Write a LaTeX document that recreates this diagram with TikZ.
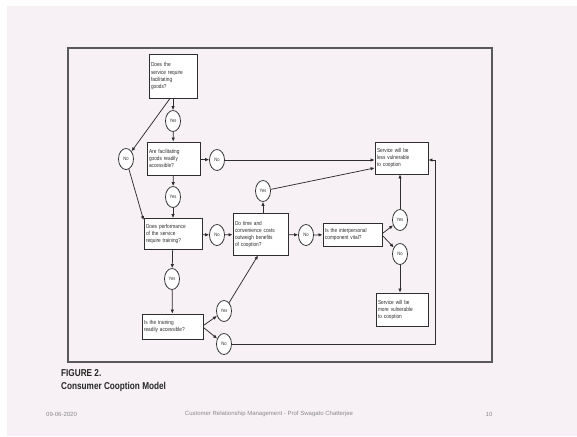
\documentclass[tikz,border=0pt]{standalone}
\usepackage{fontspec}
\setmainfont{Liberation Sans}
\newfontfamily\cond[FakeStretch=0.82]{Liberation Sans}
\usetikzlibrary{shapes.geometric,arrows.meta,calc}
\definecolor{slidebg}{HTML}{F7F0F4}
\definecolor{ink}{HTML}{2E2E2E}
\definecolor{foot}{HTML}{8A8A8A}
\begin{document}
\begin{tikzpicture}[x=1pt,y=-1pt,
  qbox/.style={draw=ink,line width=0.85pt,fill=white,inner sep=2pt,align=left,anchor=center,
     font=\cond\fontsize{5.8}{7}\selectfont,text=ink},
  ans/.style={draw=ink,line width=0.75pt,fill=white,ellipse,inner sep=0pt,minimum width=15pt,minimum height=21pt,
     font=\cond\fontsize{5}{6}\selectfont,text=ink},
  conn/.style={draw=ink,line width=0.75pt,-{Latex[length=4pt,width=3.5pt]}},
  plain/.style={draw=ink,line width=0.75pt}]
\useasboundingbox (0,0) rectangle (577,436);
\fill[white] (0,0) rectangle (577,436);
\fill[slidebg] (7,6) rectangle (577,436);
\draw[gray!70!black,line width=1.1pt] (68,48) rectangle (492,362);

% question boxes
\node[qbox,minimum width=48pt,minimum height=44pt,text width=44pt] (b1) at (173,76) {Does the\\service require\\facilitating\\goods?};
\node[qbox,minimum width=53pt,minimum height=33pt,text width=49pt] (b2) at (173.5,158.5) {Are facilitating\\goods readily\\accessible?};
\node[qbox,minimum width=58pt,minimum height=31pt,text width=54pt] (b3) at (173,234) {Does performance\\of the service\\require training?};
\node[qbox,minimum width=55pt,minimum height=42pt,text width=51pt] (b4) at (260.5,234) {Do time and\\convenience costs\\outweigh benefits\\of cooption?};
\node[qbox,minimum width=59pt,minimum height=23pt,text width=55pt] (b5) at (352.5,234.5) {Is the interpersonal\\component vital?};
\node[qbox,minimum width=61pt,minimum height=25pt,text width=57pt] (b6) at (172.5,326.5) {Is the training\\readily accessible?};
\node[qbox,minimum width=53pt,minimum height=32pt,text width=49pt] (less) at (401.5,158) {Service will be\\less vulnerable\\to cooption};
\node[qbox,minimum width=52pt,minimum height=33pt,text width=48pt] (more) at (402,309.5) {Service will be\\more vulnerable\\to cooption};

% answers
\node[ans] (y1) at (173,121) {Yes};
\node[ans] (nL) at (126,159) {No};
\node[ans] (nR) at (217,160) {No};
\node[ans] (y2) at (173,197) {Yes};
\node[ans] (n3) at (217,235) {No};
\node[ans] (yU) at (263,191) {Yes};
\node[ans] (n4) at (306,235) {No};
\node[ans] (y5) at (400,220) {Yes};
\node[ans] (n5) at (400,254) {No};
\node[ans] (y6) at (172,279) {Yes};
\node[ans] (y7) at (224,311) {Yes};
\node[ans] (n7) at (224,344) {No};

\coordinate (c1) at (435,344);
\coordinate (c2) at (435,160);

% connectors
\draw[conn] (b1) -- (y1);
\draw[conn] (y1) -- (b2);
\draw[conn] ($(b1.south)+(-3,0)$) -- (nL);
\draw[conn] (nL) -- ($(b3.north west)+(0,2)$);
\draw[conn] (b2) -- (nR);
\draw[conn] (nR) -- (nR -| less.west);
\draw[conn] (b2) -- (y2);
\draw[conn] (y2) -- (b3);
\draw[conn] (b3) -- (n3);
\draw[conn] (n3) -- (b4);
\draw[conn] (b4.north -| yU) -- (yU);
\draw[conn] (yU) -- ($(less.west)+(0,10)$);
\draw[conn] (b4) -- (n4);
\draw[conn] (n4) -- (b5);
\draw[conn] ($(b5.east)+(0,-1)$) -- (y5);
\draw[conn] ($(b5.east)+(0,1)$) -- (n5);
\draw[conn] (y5) -- (y5 |- less.south);
\draw[conn] (n5) -- (n5 |- more.north);
\draw[conn] (b3) -- (y6);
\draw[conn] (y6) -- (b6);
\draw[conn] ($(b6.east)+(0,-1)$) -- (y7);
\draw[conn] ($(b6.east)+(0,1)$) -- (n7);
\draw[conn] (y7) -- ($(b4.south)+(-2.5,0)$);
\draw[plain] (n7) -- (c1) -- (c2);
\draw[conn] (c2) -- (c2 -| less.east);

% caption
\node[anchor=west,font=\cond\bfseries\fontsize{10}{11}\selectfont,text=black!85,inner sep=0pt] (cap1) at (61,373) {FIGURE 2.};
\node[anchor=west,font=\cond\bfseries\fontsize{10}{11}\selectfont,text=black!85,inner sep=0pt] (cap2) at (61,387) {Consumer Cooption Model};

% footer
\node[anchor=west,font=\fontsize{6}{7}\selectfont,text=foot,inner sep=0pt] (f1) at (46,414) {09-06-2020};
\node[anchor=center,font=\fontsize{6}{7}\selectfont,text=foot,inner sep=0pt] (f2) at (269,414) {Customer Relationship Management - Prof Swagato Chatterjee};
\node[anchor=center,font=\fontsize{6}{7}\selectfont,text=foot,inner sep=0pt] (f3) at (489,414) {10};
\end{tikzpicture}
\end{document}
